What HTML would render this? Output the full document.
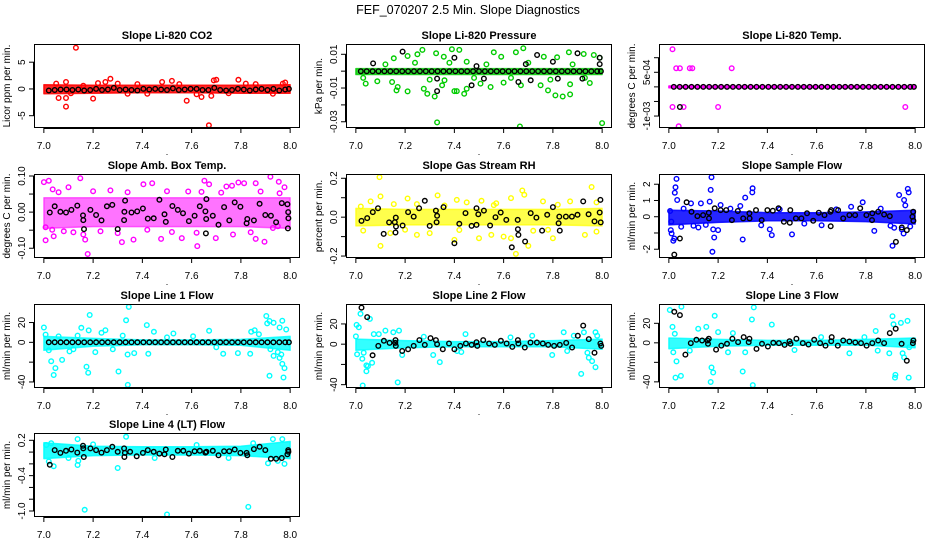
<!DOCTYPE html>
<html><head><meta charset="utf-8"><style>
html,body{margin:0;padding:0;background:#fff;}
svg{display:block;font-family:"Liberation Sans",Arial,sans-serif;}
</style></head><body>
<svg id="chart" width="936" height="540" viewBox="0 0 936 540" xmlns="http://www.w3.org/2000/svg">
<rect x="0" y="0" width="936" height="540" fill="#fff"/>
<text x="468" y="14" text-anchor="middle" font-size="12.5">FEF_070207  2.5 Min. Slope Diagnostics</text>
</svg>
<script>
// shared x categories (time) for regularly spaced black points
const regT=[7.020,7.044,7.068,7.092,7.116,7.140,7.164,7.188,7.212,7.236,7.260,7.284,7.308,7.332,7.356,7.380,7.404,7.428,7.452,7.476,7.500,7.524,7.548,7.572,7.596,7.620,7.644,7.668,7.692,7.716,7.740,7.764,7.788,7.812,7.836,7.860,7.884,7.908,7.932,7.956,7.980,7.995];
const xTicks=[7.0,7.2,7.4,7.6,7.8,8.0];
const xTickLabels=["7.0","7.2","7.4","7.6","7.8","8.0"];
const bandX=[7.0,7.2,7.4,7.6,7.8,8.0];

// P1 CO2
const co2Ticks=[-5,0,5];
const co2TickLabels=["-5","0","5"];
const co2BandLo=[-0.9,-0.8,-0.7,-0.7,-0.8,-0.8];
const co2BandHi=[0.8,0.7,0.7,0.7,0.7,0.8];
const co2Pts=[7.13,7.7,7.09,-3.3,7.09,-1.7,7.06,-1.7,7.2,-1.8,7.58,-2.2,7.67,-6.8,7.68,-1.3,7.64,-1.5,7.27,1.9,7.52,1.5,7.69,1.6,7.7,1.7,7.79,1.7,7.98,1.2,7.97,1,7.25,1.3,7.22,1.1,7.48,1.3,7.09,1.3,7.05,1,7.16,0.6,7.3,1.0,7.38,0.9,7.42,-0.9,7.55,0.9,7.62,-1.0,7.82,1.0,7.93,-0.9,7.11,-0.8,7.34,-0.9,7.75,-0.8,7.86,0.9];
const co2BlackY=[-0.3,-0.2,-0.1,-0.1,-0.2,-0.1,-0.3,-0.2,0,-0.2,-0.1,0.2,-0.2,-0.1,-0.2,-0.3,0,-0.1,0,-0.1,-0.2,0.1,-0.2,-0.1,0,0,-0.2,-0.2,0.2,-0.2,-0.3,-0.2,0,-0.1,-0.3,-0.1,0,-0.2,0,-0.3,-0.1,0];
const co2BlackPts=[];

// P2 Pressure
const presTicks=[-0.03,-0.02,-0.01,0,0.01];
const presTickLabels=["-0.03","","-0.01","","0.01"];
const presBandLo=[-0.002,-0.002,-0.002,-0.002,-0.002,-0.002];
const presBandHi=[0.0015,0.0015,0.0015,0.0015,0.0015,0.0015];
const presPts=[7.154,0.0076,7.21,0.009,7.25,0.01,7.27,0.0126,7.326,0.0106,7.357,0.0086,7.39,0.013,7.42,0.0126,7.45,0.0056,7.56,0.0112,7.59,0.0086,7.65,0.0112,7.68,0.0136,7.763,0.0086,7.817,0.0082,7.865,0.0112,7.925,0.0102,7.966,0.0096,7.99,0.008,7.04,-0.0074,7.087,-0.006,7.147,-0.0064,7.165,-0.0114,7.17,-0.0094,7.21,-0.012,7.276,-0.0104,7.29,-0.0134,7.32,-0.015,7.33,-0.0304,7.35,-0.0084,7.36,-0.0054,7.4,-0.0118,7.41,-0.0118,7.44,-0.0134,7.45,-0.0104,7.506,-0.0074,7.547,-0.0094,7.6,-0.0068,7.67,-0.0084,7.666,-0.0328,7.75,-0.0084,7.78,-0.0114,7.81,-0.0144,7.84,-0.015,7.87,-0.0078,7.87,-0.0138,7.95,-0.007,8.0,-0.0308,7.03,-0.004,7.12,0.004,7.3,-0.005,7.38,0.005,7.48,-0.004,7.53,0.004,7.7,0.005,7.79,-0.005,7.88,0.004,7.93,-0.004,7.24,0.005,7.63,-0.004];
const presBlackY=[0,0,0,0,0,0,0,0,0,0,0,0,0,0,0,0,0,0,0,0,0,0,0,0,0,0,0,0,0,0,0,0,0,0,0,0,0,0,0,0,0,0];
const presBlackPts=[7.07,0.0046,7.19,0.0116,7.33,-0.0044,7.33,-0.0118,7.4,0.008,7.47,-0.0084,7.49,0.003,7.52,-0.0044,7.66,-0.0064,7.69,0.0042,7.71,-0.0054,7.736,0.0096,7.8,0.0056,7.82,-0.0044,7.9,0.0106,7.92,-0.0044,7.99,0.008,7.99,0.0042];

// P3 Li-820 Temp
const tempTicks=[-0.001,-0.0005,0,0.0005,0.001];
const tempTickLabels=["-1e-03","","","5e-04",""];
const tempBandLo=[-0.00003,-0.00003,-0.00003,-0.00003,-0.00003,-0.00003];
const tempBandHi=[0.00003,0.00003,0.00003,0.00003,0.00003,0.00003];
const tempPts=[7.015,0.00129,7.03,0.00064,7.045,0.00064,7.085,0.00064,7.095,0.00064,7.255,0.00064,7.015,-0.00069,7.06,-0.00069,7.2,-0.00069,7.96,-0.00069,7.04,-0.00135];
const tempBlackY=[0,0,0,0,0,0,0,0,0,0,0,0,0,0,0,0,0,0,0,0,0,0,0,0,0,0,0,0,0,0,0,0,0,0,0,0,0,0,0,0,0,0];
const tempBlackPts=[7.045,-0.00069];

// P4 Amb Box Temp
const ambTicks=[-0.1,-0.05,0,0.05,0.1];
const ambTickLabels=["-0.10","","0.00","","0.10"];
const ambBandLo=[-0.045,-0.04,-0.04,-0.04,-0.04,-0.045];
const ambBandHi=[0.04,0.04,0.04,0.04,0.04,0.04];
const ambPts=[7.0,0.083,7.02,0.087,7.007,-0.042,7.007,-0.078,7.036,0.063,7.034,-0.049,7.1,0.069,7.148,0.094,7.178,-0.116,7.168,-0.076,7.27,0.06,7.317,-0.083,7.364,-0.076,7.404,0.077,7.44,0.08,7.476,-0.074,7.56,-0.072,7.586,0.057,7.623,-0.094,7.652,0.087,7.671,0.077,7.698,-0.072,7.741,0.071,7.764,0.073,7.79,0.082,7.813,0.08,7.86,0.08,7.86,-0.074,7.896,-0.082,7.92,0.098,7.954,0.084,7.977,0.069,7.957,0.052,7.04,-0.067,7.16,-0.062,7.768,-0.062,7.95,-0.039,7.93,-0.044,7.42,-0.049,7.23,-0.053,7.081,-0.053,7.06,0.055,7.2,0.058,7.34,0.055,7.5,0.058,7.64,0.056,7.72,0.054,7.88,0.057,7.12,-0.056,7.3,-0.058,7.52,-0.055,7.62,-0.057,7.84,-0.056];
const ambBlackY=[];
const ambBlackPts=[7.024,-0.001,7.044,0.016,7.067,0.001,7.09,-0.001,7.112,0.006,7.136,0.018,7.159,-0.009,7.16,-0.022,7.163,-0.047,7.189,0.006,7.212,-0.008,7.234,-0.023,7.256,0.016,7.278,0.02,7.30,-0.047,7.326,-0.022,7.327,0.001,7.33,0.032,7.356,-0.001,7.379,0.002,7.402,0.01,7.422,-0.018,7.446,-0.017,7.469,0.034,7.49,-0.006,7.495,-0.027,7.522,0.017,7.544,0.006,7.565,-0.003,7.589,-0.025,7.612,-0.01,7.633,0.016,7.656,0.002,7.658,-0.059,7.659,-0.019,7.66,0.036,7.686,-0.01,7.709,-0.035,7.732,0.014,7.753,-0.023,7.775,0.027,7.798,0.015,7.823,-0.031,7.826,-0.019,7.853,-0.023,7.876,0.023,7.899,-0.008,7.922,-0.01,7.943,-0.028,7.966,0.025,7.989,0.022,7.992,0,7.993,-0.017,7.991,-0.045];

// P5 Gas Stream RH
const rhTicks=[-0.2,-0.1,0,0.1,0.2];
const rhTickLabels=["-0.2","","0.0","","0.2"];
const rhBandLo=[-0.045,-0.04,-0.04,-0.04,-0.04,-0.045];
const rhBandHi=[0.045,0.04,0.04,0.04,0.04,0.045];
const rhPts=[7.096,0.206,7.1,0.107,7.154,0.067,7.21,0.096,7.248,0.067,7.332,0.112,7.41,0.089,7.45,0.076,7.51,0.084,7.57,0.072,7.63,0.098,7.676,0.137,7.684,0.115,7.957,0.155,7.977,0.076,7.1,-0.148,7.14,-0.082,7.248,-0.091,7.4,-0.117,7.5,-0.108,7.55,-0.091,7.6,-0.1,7.63,-0.108,7.65,-0.189,7.7,-0.148,7.8,-0.108,7.93,-0.091,7.03,-0.069,7.02,0.055,7.06,0.081,7.76,0.081,7.87,0.081,7.3,-0.082,7.2,-0.065,7.78,-0.065,7.977,-0.074,7.36,0.06,7.56,0.062,7.82,0.064,7.42,-0.066,7.72,-0.07];
const rhBlackY=[];
const rhBlackPts=[7.023,-0.019,7.046,-0.005,7.069,0.026,7.09,0.046,7.113,-0.086,7.135,-0.027,7.158,-0.026,7.162,-0.002,7.163,-0.048,7.161,-0.079,7.19,-0.043,7.212,0.026,7.235,0.003,7.257,0.046,7.28,0.084,7.3,-0.045,7.325,0.034,7.328,-0.026,7.33,0.007,7.356,0.052,7.4,-0.134,7.42,-0.034,7.445,0.021,7.47,-0.045,7.49,0.046,7.49,-0.04,7.497,0.015,7.52,0.034,7.545,-0.043,7.567,0,7.588,0.024,7.611,-0.014,7.633,-0.155,7.657,-0.014,7.658,-0.062,7.66,-0.091,7.687,-0.125,7.71,0.021,7.733,-0.002,7.756,-0.069,7.777,0.012,7.8,0.052,7.823,-0.031,7.826,0.003,7.828,-0.069,7.853,0.003,7.877,0.003,7.9,0.012,7.923,0.081,7.945,0.015,7.969,-0.022,7.99,0.024,7.993,0.089,7.994,-0.027];

// P6 Sample Flow
const sampTicks=[-2,-1,0,1,2];
const sampTickLabels=["-2","","0","1","2"];
const sampBandLo=[-0.5,-0.35,-0.25,-0.25,-0.3,-0.45];
const sampBandHi=[0.4,0.35,0.25,0.25,0.3,0.4];
const sampPts=[7.031,2.33,7.027,1.81,7.024,1.48,7.034,1.03,7.008,-0.82,7.011,-1.03,7.018,-1.48,7.022,-1.34,7.173,2.43,7.17,1.65,7.166,0.93,7.18,-0.78,7.184,-1.28,7.177,-2.16,7.2,-0.82,7.3,-1.4,7.31,1.18,7.34,1.75,7.339,1.5,7.41,-0.78,7.418,-1.13,7.5,-1.09,7.787,0.89,7.834,-0.87,7.935,1.34,7.955,1.03,7.97,1.71,7.974,1.5,7.908,-1.79,7.953,-1.03,7.946,-0.78,7.915,-0.68,7.09,0.82,7.05,-0.62,7.12,-0.66,7.21,0.72,7.29,0.66,7.13,0.82,7.74,0.62,7.62,-0.52,7.375,-0.52,7.005,0.35,7.01,-0.3,7.06,0.5,7.1,-0.55,7.15,-0.5,7.25,0.5,7.45,0.45,7.55,-0.42,7.68,0.45,7.86,0.5,7.9,-0.55,7.96,0.7,7.98,-0.6];
const sampBlackY=[];
const sampBlackPts=[7.022,-2.33,7.045,-1.34,7.072,0.89,7.092,0.31,7.116,0.04,7.139,0.1,7.162,0.25,7.163,-0.1,7.186,0.52,7.21,0.41,7.233,0.41,7.256,-0.21,7.28,0.35,7.302,-0.1,7.327,0.21,7.328,-0.1,7.354,0.41,7.377,-0.21,7.4,0.41,7.422,0.37,7.445,0.52,7.467,-0.31,7.491,-0.37,7.493,0.41,7.516,-0.1,7.538,-0.1,7.561,0.21,7.586,-0.25,7.609,0.25,7.632,0.1,7.656,0.31,7.657,-0.58,7.659,0.41,7.687,0.41,7.708,-0.1,7.733,0.1,7.756,0.1,7.777,0.52,7.802,0.1,7.825,-0.21,7.826,0.21,7.85,0.31,7.874,0.14,7.897,0.04,7.922,-1.55,7.946,-0.66,7.966,-0.82,7.989,0,7.992,0.31,7.993,-0.25];

// P7 Line 1 Flow
const l1Ticks=[-40,-20,0,20];
const l1TickLabels=["-40","","0","20"];
const l1BandLo=[-8,-4,-2.5,-2.5,-3,-8];
const l1BandHi=[6,4,2.5,2.5,3,6];
const l1Pts=[7.0,15,7.007,7.8,7.03,-19,7.04,-33,7.047,-26,7.074,-17.7,7.104,-9.2,7.137,6.8,7.152,14.7,7.173,-24.6,7.18,-30.7,7.186,27.6,7.182,12,7.209,-9.9,7.234,9.6,7.25,12.3,7.303,-29.4,7.32,6.8,7.334,22.2,7.345,35.8,7.34,-12.3,7.341,-43,7.367,-10.9,7.418,17.4,7.424,-11.6,7.447,10.6,7.526,8.9,7.606,6.1,7.671,11.6,7.728,-11.6,7.788,-10.9,7.838,-11.6,7.842,10.6,7.856,12.3,7.873,8.2,7.903,26.6,7.907,19.1,7.916,21.5,7.933,19.8,7.957,15,7.968,21.8,7.916,-33.8,7.933,-13.7,7.95,-9.9,7.957,-15.7,7.964,-12.3,7.968,-21.8,7.977,-26,7.973,-35.5,7.984,13,7.02,-8,7.06,6,7.12,-7,7.28,-7,7.5,5,7.7,-5,7.92,-7];
const l1BlackY=[0,0,0,0,0,0,0,0,0,0,0,0,0,0,0,0,0,0,0,0,0,0,0,0,0,0,0,0,0,0,0,0,0,0,0,0,0,0,0,0,0,0];
const l1BlackPts=[];

// P8 Line 2 Flow
const l2Ticks=[-40,-20,0,20];
const l2TickLabels=["-40","","0","20"];
const l2BandLo=[-6,-3.5,-2.5,-2.5,-2.5,-5];
const l2BandHi=[5,3.5,2.5,2.5,3.5,5];
const l2Pts=[7.003,19,7.012,16.7,7.019,30,7.0,7.7,7.005,-10,7.032,-8.4,7.026,-14.4,7.043,-21,7.043,-26.8,7.049,-21.7,7.028,-40.8,7.057,25,7.066,-18.4,7.073,10,7.093,10,7.12,13.4,7.152,11.7,7.175,13.4,7.17,-37.8,7.188,-10.7,7.276,7.4,7.314,-10.7,7.341,-17.7,7.411,-6.7,7.428,-7.7,7.445,10,7.628,6.7,7.716,8.4,7.797,-10.7,7.844,11.7,7.858,-6.7,7.915,-29.4,7.926,11.7,7.94,-8.4,7.946,-13.4,7.959,-16.7,7.973,-22.7,7.973,11.7,7.98,8.4,7.885,8.4];
const l2BlackY=[];
const l2BlackPts=[7.023,36.1,7.046,26.8,7.068,-11,7.091,-1.7,7.114,3.3,7.137,1.3,7.16,1.3,7.161,4,7.162,-1.7,7.188,-6.7,7.212,-5,7.235,-1.7,7.258,4,7.28,-0.7,7.303,6,7.325,4,7.33,0,7.353,-5,7.378,0.7,7.4,-5,7.424,-1.7,7.447,0.7,7.47,-0.7,7.49,2,7.493,-1.7,7.517,4,7.541,0.7,7.564,-0.7,7.589,3.3,7.612,0.7,7.635,-2.7,7.658,4,7.66,0.7,7.686,-3.3,7.709,1.7,7.735,1.7,7.759,0.7,7.781,-0.7,7.805,-1.7,7.828,-0.7,7.854,1.3,7.878,-3.3,7.901,8.4,7.923,18.4,7.946,5,7.969,-8.4,7.993,0.7,7.996,-1.7];

// P9 Line 3 Flow
const l3Ticks=[-40,-20,0,20];
const l3TickLabels=["-40","","0","20"];
const l3BandLo=[-6,-3.5,-2.5,-2.5,-2.5,-5];
const l3BandHi=[5,3.5,2.5,2.5,3.5,5];
const l3Pts=[7.004,33.6,7.015,16.3,7.024,9.3,7.018,-9.7,7.031,-19,7.027,-35.6,7.049,-33.9,7.051,37,7.085,-8,7.119,14.5,7.152,16.3,7.173,-25.3,7.18,-30.4,7.17,-40.1,7.186,27.7,7.2,11,7.24,-9.7,7.26,10,7.3,-29.4,7.31,-9.7,7.337,23.9,7.345,36.3,7.341,-43.3,7.418,18.7,7.51,-7.3,7.618,5.9,7.733,-10.7,7.794,5.9,7.84,12.1,7.895,-10.7,7.908,27.3,7.912,19,7.918,-35.6,7.92,-32.9,7.942,20.4,7.969,22.5,7.974,-35.6,7.949,-10.7,7.955,-14.9,7.976,-4.5,7.848,-8];
const l3BlackY=[];
const l3BlackPts=[7.022,31.8,7.045,28.4,7.067,-12.1,7.089,-0.3,7.112,3.1,7.135,2.4,7.157,2.4,7.159,-1,7.162,4.2,7.192,-6.9,7.213,-2.8,7.236,-1,7.258,4.2,7.281,0.7,7.304,5.9,7.324,0.7,7.327,4.2,7.356,-6.2,7.378,-1,7.402,-3.8,7.424,0,7.447,-0.3,7.47,-2.1,7.49,1.7,7.494,-1,7.518,4.2,7.544,-0.3,7.567,-1.7,7.59,3.1,7.614,-0.3,7.636,-2.8,7.659,1.7,7.661,5.9,7.686,-2.8,7.708,2.4,7.733,1.4,7.757,0.3,7.78,-0.3,7.803,-2.8,7.826,-0.3,7.85,2.4,7.874,-0.3,7.897,10,7.921,14.5,7.945,-1,7.966,-18.3,7.991,-0.3,7.993,2.4];

// P10 Line 4 (LT) Flow
const l4Ticks=[-1.0,-0.8,-0.6,-0.4,-0.2,0,0.2];
const l4TickLabels=["-1.0","","","-0.4","","","0.2"];
const l4BandLo=[-0.11,-0.06,-0.05,-0.05,-0.06,-0.11];
const l4BandHi=[0.16,0.1,0.09,0.09,0.1,0.18];
const l4Pts=[7.04,-0.24,7.137,0.22,7.137,-0.22,7.14,-0.15,7.166,-0.98,7.3,-0.27,7.334,0.26,7.5,-1.06,7.83,-0.93,7.91,-0.19,7.977,-0.2,7.93,0.22,7.968,0.22,7.85,0.15,7.01,0.12,7.03,0.15,7.02,-0.16,7.1,-0.1,7.2,0.13,7.45,-0.1,7.62,0.12,7.75,-0.1,7.95,-0.15];
const l4BlackY=[];
const l4BlackPts=[7.024,-0.215,7.044,0.033,7.067,-0.013,7.09,0.021,7.112,0.044,7.136,-0.008,7.159,0.108,7.16,0.062,7.162,-0.083,7.189,0.062,7.212,0.033,7.234,-0.008,7.256,0.033,7.278,0.09,7.3,0.004,7.326,0.062,7.327,-0.083,7.329,-0.013,7.35,0.004,7.377,-0.071,7.402,-0.013,7.422,0.033,7.446,0.004,7.469,-0.025,7.49,-0.037,7.495,0.044,7.522,-0.083,7.544,0.021,7.566,0.021,7.589,-0.025,7.612,0.015,7.633,0.021,7.656,-0.008,7.66,0.004,7.686,0.021,7.709,-0.054,7.732,0.015,7.753,0.015,7.775,0.044,7.798,-0.013,7.823,-0.013,7.826,-0.054,7.853,0.05,7.876,0.09,7.899,0.033,7.922,-0.112,7.943,-0.112,7.966,-0.1,7.989,-0.037,7.992,0.033,7.993,0.004];

const NS="http://www.w3.org/2000/svg";
const svg=document.getElementById("chart");
const colLeft=[34,346,659], rowTop=[44,174,304,433], boxW=266, boxH=84;
const XMIN=6.96, XMAX=8.04;

function mk(tag,attrs,parent){const e=document.createElementNS(NS,tag);for(const k in attrs)e.setAttribute(k,attrs[k]);(parent||svg).appendChild(e);return e;}

function panel(key,title,ylab,col,row,ylim,ticks,tickLabels,color,bandOpacity,bandLo,bandHi,pts,blackY,blackPts){
  const L=colLeft[col],T=rowTop[row];
  const g=mk("g",{});
  
  
  const sx=v=>L+(v-XMIN)/(XMAX-XMIN)*boxW;
  const sy=v=>T+boxH-(v-ylim[0])/(ylim[1]-ylim[0])*boxH;
  const clip=mk("clipPath",{id:"clip-"+key},g);
  mk("rect",{x:L,y:T,width:boxW,height:boxH},clip);
  const plot=mk("g",{"clip-path":"url(#clip-"+key+")"},g);
  
  
  let d="";
  bandX.forEach((x,i)=>{d+=(i?"L":"M")+sx(x).toFixed(1)+","+sy(bandHi[i]).toFixed(1);});
  for(let i=bandX.length-1;i>=0;i--)d+="L"+sx(bandX[i]).toFixed(1)+","+sy(bandLo[i]).toFixed(1);
  const band=mk("path",{d:d+"Z",fill:color,"fill-opacity":bandOpacity,stroke:color,"stroke-opacity":bandOpacity,"stroke-width":1.5,"stroke-linejoin":"round"},plot);
  
  
  for(let i=0;i<pts.length;i+=2){
    const c=mk("circle",{cx:sx(pts[i]).toFixed(1),cy:sy(pts[i+1]).toFixed(1),r:2.3,fill:"none",stroke:color,"stroke-width":1.4},plot);
    
    
  }
  for(let i=0;i<blackY.length;i++){
    const c=mk("circle",{cx:sx(regT[i]).toFixed(1),cy:sy(blackY[i]).toFixed(1),r:2.3,fill:"none",stroke:"#000","stroke-width":1.4},plot);
    
    
  }
  for(let i=0;i<blackPts.length;i+=2){
    const c=mk("circle",{cx:sx(blackPts[i]).toFixed(1),cy:sy(blackPts[i+1]).toFixed(1),r:2.3,fill:"none",stroke:"#000","stroke-width":1.4},plot);
    
    
  }
  const box=mk("rect",{x:L+0.5,y:T+0.5,width:boxW-1,height:boxH-1,fill:"none",stroke:"#000","stroke-width":1},g);
  
  
  const xa=mk("g",{},g);
  
  
  const by=T+boxH;
  mk("line",{x1:sx(xTicks[0]),x2:sx(xTicks[xTicks.length-1]),y1:by+0.5,y2:by+0.5,stroke:"#000"},xa);
  xTicks.forEach((t,i)=>{
    mk("line",{x1:sx(t),x2:sx(t),y1:by,y2:by+5,stroke:"#000"},xa);
    const tx=mk("text",{x:sx(t),y:by+21,"text-anchor":"middle","font-size":10},xa);
    
    
    tx.textContent=xTickLabels[i];
  });
  const dot=mk("text",{x:L+boxW/2,y:by+27,"text-anchor":"middle","font-size":9},g);
  
  
  dot.textContent=".";
  const ya=mk("g",{},g);
  
  
  mk("line",{x1:L-0.5,x2:L-0.5,y1:sy(ticks[0]),y2:sy(ticks[ticks.length-1]),stroke:"#000"},ya);
  ticks.forEach((t,i)=>{
    mk("line",{x1:L-5,x2:L,y1:sy(t),y2:sy(t),stroke:"#000"},ya);
    if(tickLabels[i]){
      const yy=sy(t),xx=L-9;
      const tx=mk("text",{x:xx,y:yy,"text-anchor":"middle","font-size":10,transform:"rotate(-90 "+xx+" "+yy+")"},ya);
      
      
      tx.textContent=tickLabels[i];
    }
  });
  const yx=L-24,yy=T+boxH/2;
  const yl=mk("text",{x:yx,y:yy,"text-anchor":"middle","font-size":10,transform:"rotate(-90 "+yx+" "+yy+")"},g);
  
  
  yl.textContent=ylab;
  const tt=mk("text",{x:L+boxW/2,y:T-5,"text-anchor":"middle","font-size":11,"font-weight":"bold"},g);
  
  
  tt.textContent=title;
}

panel("co2","Slope Li-820 CO2","Licor ppm per min.",0,0,[-7.3,8.4],co2Ticks,co2TickLabels,"#ff0000",0.85,co2BandLo,co2BandHi,co2Pts,co2BlackY,co2BlackPts);
panel("pressure","Slope Li-820 Pressure","kPa per min.",1,0,[-0.0337,0.0161],presTicks,presTickLabels,"#00cc00",0.8,presBandLo,presBandHi,presPts,presBlackY,presBlackPts);
panel("temp","Slope Li-820 Temp.","degrees C per min.",2,0,[-0.00141,0.00147],tempTicks,tempTickLabels,"#ff00ff",1,tempBandLo,tempBandHi,tempPts,tempBlackY,tempBlackPts);
panel("amb-box","Slope Amb. Box Temp.","degrees C per min.",0,1,[-0.127,0.1055],ambTicks,ambTickLabels,"#ff00ff",0.55,ambBandLo,ambBandHi,ambPts,ambBlackY,ambBlackPts);
panel("rh","Slope Gas Stream RH","percent per min.",1,1,[-0.21,0.222],rhTicks,rhTickLabels,"#ffff00",0.7,rhBandLo,rhBandHi,rhPts,rhBlackY,rhBlackPts);
panel("sample-flow","Slope Sample Flow","ml/min per min.",2,1,[-2.54,2.63],sampTicks,sampTickLabels,"#0000ff",0.85,sampBandLo,sampBandHi,sampPts,sampBlackY,sampBlackPts);
panel("line1","Slope Line 1 Flow","ml/min per min.",0,2,[-46.1,38.7],l1Ticks,l1TickLabels,"#00ffff",0.8,l1BandLo,l1BandHi,l1Pts,l1BlackY,l1BlackPts);
panel("line2","Slope Line 2 Flow","ml/min per min.",1,2,[-43.3,39.7],l2Ticks,l2TickLabels,"#00ffff",0.8,l2BandLo,l2BandHi,l2Pts,l2BlackY,l2BlackPts);
panel("line3","Slope Line 3 Flow","ml/min per min.",2,2,[-46.3,39.8],l3Ticks,l3TickLabels,"#00ffff",0.8,l3BandLo,l3BandHi,l3Pts,l3BlackY,l3BlackPts);
panel("line4","Slope Line 4 (LT) Flow","ml/min per min.",0,3,[-1.102,0.324],l4Ticks,l4TickLabels,"#00ffff",0.85,l4BandLo,l4BandHi,l4Pts,l4BlackY,l4BlackPts);
</script>
</body></html>
